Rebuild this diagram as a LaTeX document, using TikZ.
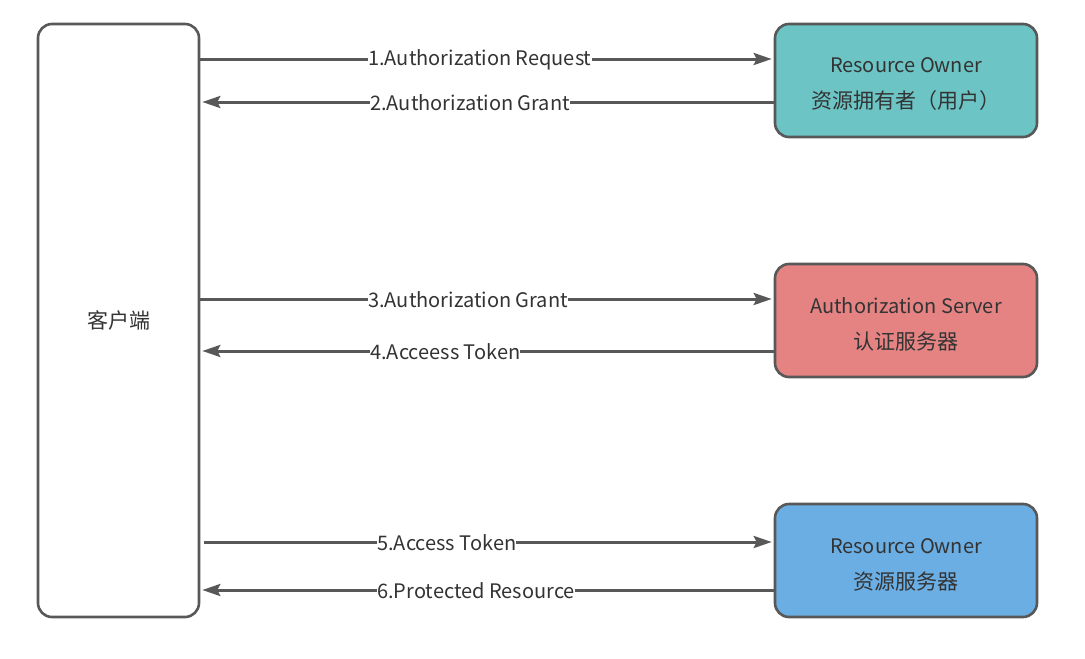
\documentclass[tikz,border=0pt]{standalone}
\usepackage{fontspec}
\setmainfont{Noto Sans CJK SC}
\usetikzlibrary{arrows.meta,positioning}
\definecolor{lineGray}{RGB}{88,88,88}
\definecolor{ownerTeal}{RGB}{108,196,196}
\definecolor{authRed}{RGB}{229,131,131}
\definecolor{resBlue}{RGB}{106,174,227}
\newcommand{\cjkline}[1]{{\fontsize{21}{36}\selectfont #1}}

\begin{document}
\begin{tikzpicture}[
  x=1pt,y=-1pt,
  party/.style={rectangle,rounded corners=14pt,draw=lineGray,line width=2.6pt,
                minimum width=262pt,minimum height=113pt,align=center,
                font=\fontsize{20}{36}\selectfont,text=black!80},
  ptext/.style={align=center,yshift=-4pt,font=\fontsize{20}{36}\selectfont,text=black!80},
  msg/.style={-{Stealth[length=18pt,width=12pt,inset=3pt]},line width=3pt,draw=lineGray},
  lbl/.style={fill=white,inner sep=0pt,anchor=west,font=\fontsize{20}{22}\selectfont,text=black!80}
]
  \useasboundingbox (0,0) rectangle (1085,659);

  \node[party,minimum width=161pt,minimum height=593pt](client) at (118.5,320.5) {\cjkline{客户端}};
  \node[party,fill=ownerTeal,label={[ptext]center:Resource Owner\\\cjkline{资源拥有者（用户）}}](owner) at (906,80.5) {};
  \node[party,fill=authRed,label={[ptext]center:Authorization Server\\\cjkline{认证服务器}}](auth) at (906,320.5) {};
  \node[party,fill=resBlue,label={[ptext]center:Resource Owner\\\cjkline{资源服务器}}](res) at (906,560.5) {};

  % ── owner ──
  \draw[msg](client.east |- 0,59)--([xshift=-2pt]owner.west |- 0,59);
  \node[lbl](m1) at (368,60) {1.Authorization Request};
  \draw[msg](owner.west |- 0,102)--([xshift=2pt]client.east |- 0,102);
  \node[lbl](m2) at (370,103) {2.Authorization Grant};

  % ── auth server ──
  \draw[msg](client.east |- 0,299)--([xshift=-2pt]auth.west |- 0,299);
  \node[lbl](m3) at (368,300) {3.Authorization Grant};
  \draw[msg](auth.west |- 0,351)--([xshift=2pt]client.east |- 0,351);
  \node[lbl](m4) at (370,352) {4.Acceess Token};

  % ── resource server ──
  \draw[msg]([xshift=4pt]client.east |- 0,542)--([xshift=-2pt]res.west |- 0,542);
  \node[lbl](m5) at (377,543) {5.Access Token};
  \draw[msg](res.west |- 0,590)--([xshift=2pt]client.east |- 0,590);
  \node[lbl](m6) at (377,591) {6.Protected Resource};
\end{tikzpicture}
\end{document}
